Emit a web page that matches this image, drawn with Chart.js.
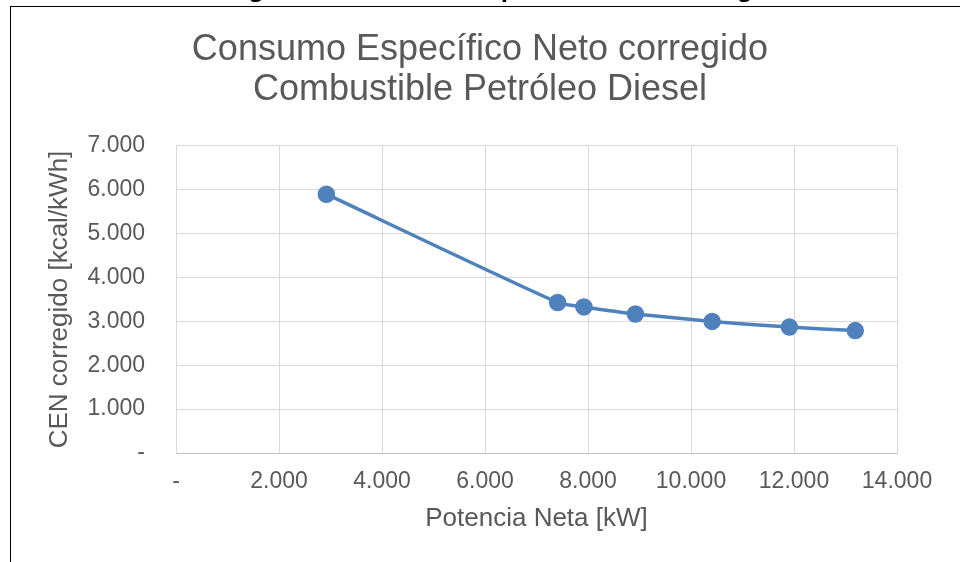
<!DOCTYPE html>
<html>
<head>
<meta charset="utf-8">
<script src="https://cdn.jsdelivr.net/npm/chart.js@4"></script>
<style>
  html, body { margin: 0; padding: 0; background: #fff; overflow: hidden; }
  #wrap { position: relative; width: 960px; height: 562px; overflow: hidden; }
  #myChart { position: absolute; left: 0; top: 0; }
  #caption {
    position: absolute; left: 227px; top: -25px; white-space: nowrap;
    font: italic bold 26px "Liberation Sans", Arial, sans-serif; line-height: 1; color: #000;
  }
  #frame {
    position: absolute; left: 10px; top: 6px; width: 1000px; height: 600px;
    border: 1px solid #000; pointer-events: none;
  }
</style>
</head>
<body>
<div id="wrap">
  <canvas id="myChart" width="960" height="562"></canvas>
  <div id="caption">Figura 6: Consumo Específico Neto corregido</div>
  <div id="frame"></div>
</div>
<script>
// values
const potencia = [2920, 7410, 7920, 8920, 10410, 11910, 13190];   // kW
const cen = [5900, 3430, 3330, 3170, 3000, 2870, 2790];           // kcal/kWh

const titleLines = ['Consumo Específico Neto corregido', 'Combustible Petróleo Diesel'];
const xTitle = 'Potencia Neta [kW]';
const yTitle = 'CEN corregido [kcal/kWh]';

const lineColor = '#4f81bd';
const textColor = '#595959';
const gridColor = '#d9d9d9';
const fontFam = '"Liberation Sans", Arial, sans-serif';

// 2000 -> "2.000", 0 -> "-"
function fmt(v) {
  if (v === 0) return '-';
  return String(v).replace(/\B(?=(\d{3})+(?!\d))/g, '.');
}

let points = potencia.map(function(p, i) {
  return { x: p, y: cen[i] };
});

var ctx = document.getElementById('myChart').getContext('2d');
var config = {
  type: 'scatter',
  data: {
    datasets: [{
      data: points,
      showLine: true,
      borderColor: lineColor,
      backgroundColor: lineColor,
      borderWidth: 3.5,
      pointRadius: 7,
      pointHoverRadius: 7,
      tension: 0.2
    }]
  },
  options: {
    responsive: false,
    animation: false,
    layout: { padding: { left: 10, right: 10, top: 0, bottom: 0 } },
    plugins: {
      legend: { display: false },
      tooltip: { enabled: false },
      title: {
        display: true,
        text: titleLines,
        color: textColor,
        font: { family: fontFam, size: 36, weight: 'normal', lineHeight: 1.13 },
        padding: { top: 29.5, bottom: 35.1 }
      }
    },
    scales: {
      x: {
        type: 'linear',
        min: 0,
        max: 14000,
        afterFit: function(s) { s.height = 109; },
        grid: { color: gridColor, drawTicks: false },
        border: { color: '#bfbfbf' },
        ticks: {
          stepSize: 2000,
          padding: 15,
          color: textColor,
          font: { family: fontFam, size: 23 },
          callback: function(v) { return fmt(v); }
        },
        title: {
          display: true,
          text: xTitle,
          color: textColor,
          font: { family: fontFam, size: 26 },
          padding: { top: 0, bottom: 28 }
        }
      },
      y: {
        min: 0,
        max: 7000,
        afterFit: function(s) { s.width = 166; },
        grid: { color: gridColor, drawTicks: false },
        border: { color: gridColor },
        ticks: {
          stepSize: 1000,
          padding: 31,
          color: textColor,
          font: { family: fontFam, size: 23 },
          callback: function(v) { return fmt(v); }
        },
        title: {
          display: true,
          text: yTitle,
          color: textColor,
          font: { family: fontFam, size: 26 },
          padding: { top: 34.4, bottom: 0 }
        }
      },
      // empty right-hand strip so the title centres on the page like the original
      yRight: {
        position: 'right',
        min: 0,
        max: 7000,
        afterFit: function(s) { s.width = 53; },
        grid: { display: false, drawTicks: false },
        border: { display: false },
        ticks: { display: false }
      }
    }
  }
};

var chart = new Chart(ctx, config);
</script>
</body>
</html>
